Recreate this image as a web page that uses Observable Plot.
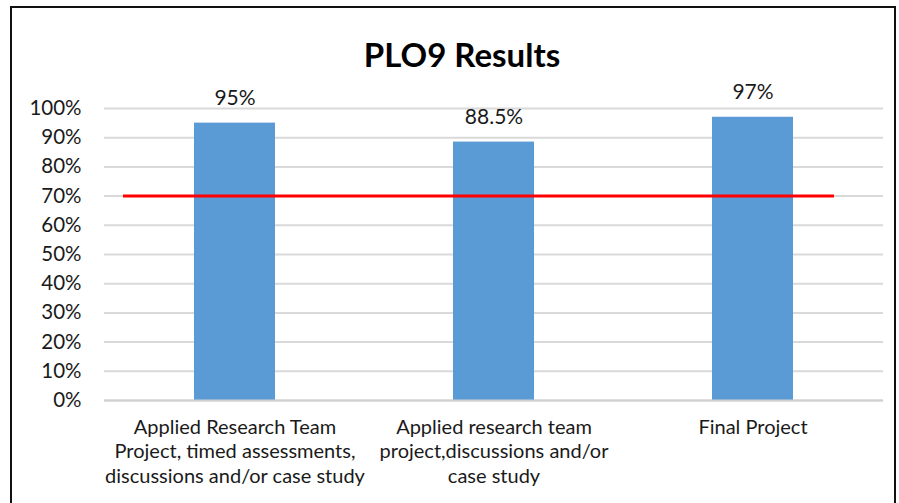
<!DOCTYPE html>
<html>
<head>
<meta charset="utf-8">
<script src="https://cdn.jsdelivr.net/npm/d3@7"></script>
<script src="https://cdn.jsdelivr.net/npm/@observablehq/plot@0.6"></script>
<style>
  html, body { margin: 0; padding: 0; background: #fff; }
  #wrap { position: relative; width: 899px; height: 503px; overflow: hidden; font-family: Lato, "Open Sans", sans-serif; }
  #frame { position: absolute; left: 10px; top: 6px; width: 886px; height: 560px; border: 2px solid #111; box-sizing: border-box; }
  #title { position: absolute; left: 0; width: 924px; top: 34px; text-align: center; font-weight: 700; font-size: 33px; color: #000; line-height: 40px; }
  #chart { position: absolute; left: 0; top: 0; }
  #chart svg { background: transparent; }
</style>
</head>
<body>
<div id="wrap">
  <div id="frame"></div>
  <div id="title">PLO9 Results</div>
  <div id="chart"></div>
</div>
<script>
const categories = [
  "Applied Research Team\nProject, timed assessments,\ndiscussions and/or case study",
  "Applied research team\nproject,discussions and/or\ncase study",
  "Final Project"
];
const values = [95, 88.5, 97];
const valueLabels = ["95%", "88.5%", "97%"];
const target = [70];
const yTicks = [0, 10, 20, 30, 40, 50, 60, 70, 80, 90, 100];

const data = categories.map((c, i) => ({ category: c, value: values[i], label: valueLabels[i] }));

const chart = Plot.plot({
  width: 899,
  height: 503,
  marginLeft: 104,
  marginRight: 16,
  marginTop: 108,
  marginBottom: 103,
  style: { fontFamily: "Lato, 'Open Sans', sans-serif", fontSize: "20px", color: "#1a1a1a", background: "transparent" },
  x: { domain: categories, paddingInner: 0.688, paddingOuter: 0.344, axis: null },
  y: { domain: [0, 100], axis: null },
  marks: [
    Plot.gridY(yTicks, { stroke: "#d9d9d9", strokeOpacity: 1, strokeWidth: 2 }),
    Plot.axisY(yTicks, { tickSize: 0, tickPadding: 23, tickFormat: d => d + "%", fill: "#1a1a1a", fontSize: 20.5, label: null }),
    Plot.barY(data, { x: "category", y: "value", fill: "#5b9bd5" }),
    Plot.ruleY([0], { stroke: "#d0d0d0", strokeWidth: 2 }),
    Plot.ruleY(target, { stroke: "#ff0000", strokeWidth: 3, insetLeft: 19, insetRight: 49 }),
    Plot.text(data, { x: "category", y: "value", text: "label", lineAnchor: "middle", dy: -25, fill: "#1a1a1a", fontSize: 21 }),
    Plot.text(data, { x: "category", y: 0, text: "category", lineAnchor: "top", dy: 16, lineHeight: 1.22, fill: "#1a1a1a", fontSize: 20 })
  ]
});
document.getElementById("chart").appendChild(chart);
</script>
</body>
</html>
